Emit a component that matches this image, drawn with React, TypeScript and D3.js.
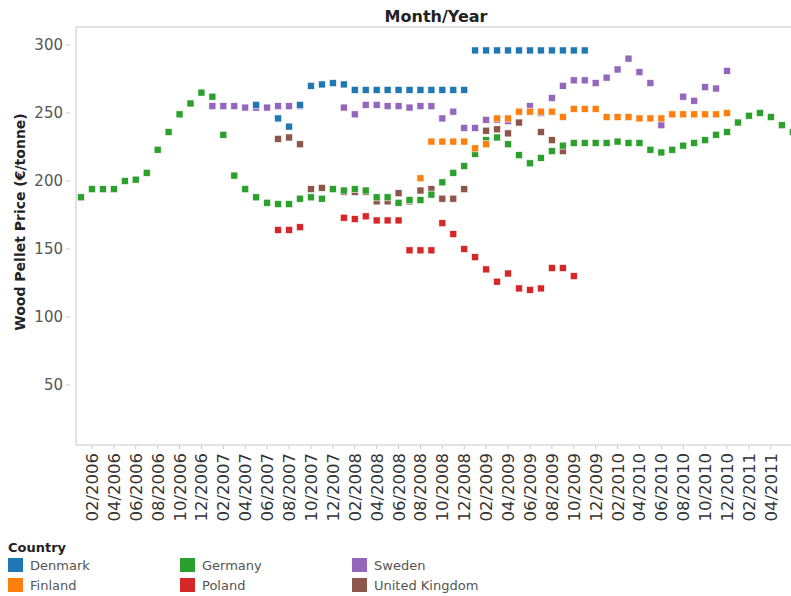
import * as d3 from 'd3';
import React, { useEffect, useRef } from 'react';

// months on the x axis (01/2006 .. 06/2011)
const months: string[] = d3
  .timeMonth.range(new Date(2006, 0, 1), new Date(2011, 6, 1))
  .map(d3.timeFormat('%m/%Y'));

const tickLabels = [
  '02/2006', '04/2006', '06/2006', '08/2006', '10/2006', '12/2006',
  '02/2007', '04/2007', '06/2007', '08/2007', '10/2007', '12/2007',
  '02/2008', '04/2008', '06/2008', '08/2008', '10/2008', '12/2008',
  '02/2009', '04/2009', '06/2009', '08/2009', '10/2009', '12/2009',
  '02/2010', '04/2010', '06/2010', '08/2010', '10/2010', '12/2010',
  '02/2011', '04/2011',
];

const yTicks = [50, 100, 150, 200, 250, 300];

// each series starts at its first month, null = no data that month
const denmarkFrom = '05/2007';
const denmark = [
  256, null, 246, 240, 256, 270, 271, 272, 271,
  267, 267, 267, 267, 267, 267, 267, 267, 267, 267, 267,
  296, 296, 296, 296, 296, 296, 296, 296, 296, 296, 296,
];

const finlandFrom = '08/2008';
const finland = [
  202, 229, 229, 229, 229, 224, 227, 246, 246, 251, 251, 251, 251, 247,
  253, 253, 253, 247, 247, 247, 246, 246, 246, 249, 249, 249, 249, 249, 250,
];

const germanyFrom = '01/2006';
const germany = [
  188, 194, 194, 194, 200, 201, 206, 223, 236, 249, 257, 265,
  262, 234, 204, 194, 188, 184, 183, 183, 187, 188, 187, 194,
  193, 194, 193, 188, 188, 184, 186, 186, 190, 199, 206, 211,
  220, 230, 232, 227, 219, 213, 217, 222, 226, 228, 228, 228,
  228, 229, 228, 228, 223, 221, 223, 226, 228, 230, 234, 236,
  243, 248, 250, 247, 241, 236,
];

const polandFrom = '07/2007';
const poland = [
  164, 164, 166, null, null, null, 173, 172, 174, 171, 171, 171,
  149, 149, 149, 169, 161, 150, 144, 135, 126, 132, 121, 120, 121,
  136, 136, 130,
];

const swedenFrom = '01/2007';
const sweden = [
  255, 255, 255, 254, 254, 254, 255, 255, 255, null, null, null,
  254, 249, 256, 256, 255, 255, 254, 255, 255, 246, 251, 239,
  239, 245, 245, 244, 251, 255, 250, 261, 270, 274, 274, 272,
  276, 282, 290, 280, 272, 241, 249, 262, 259, 269, 268, 281,
];

const ukFrom = '07/2007';
const uk = [
  231, 232, 227, 194, 195, null, 192, 192, 192, 185, 185, 191,
  185, 193, 194, 187, 187, 194, null, 237, 238, 235, 243, null,
  236, 230, 222,
];

const legendItems = [
  { name: 'Denmark', color: '#1f77b4' },
  { name: 'Finland', color: '#ff7f0e' },
  { name: 'Germany', color: '#2ca02c' },
  { name: 'Poland', color: '#d62728' },
  { name: 'Sweden', color: '#9467bd' },
  { name: 'United Kingdom', color: '#8c564b' },
];

// drawing order (later ones sit on top)
const series = [
  { name: 'Sweden', from: swedenFrom, values: sweden, color: '#9467bd' },
  { name: 'United Kingdom', from: ukFrom, values: uk, color: '#8c564b' },
  { name: 'Poland', from: polandFrom, values: poland, color: '#d62728' },
  { name: 'Germany', from: germanyFrom, values: germany, color: '#2ca02c' },
  { name: 'Finland', from: finlandFrom, values: finland, color: '#ff7f0e' },
  { name: 'Denmark', from: denmarkFrom, values: denmark, color: '#1f77b4' },
];

const FONT = 'DejaVu Sans, Verdana, sans-serif';

const App = () => {
  const svgRef = useRef<SVGSVGElement>(null);

  useEffect(() => {
    const svg = d3.select(svgRef.current);
    svg.selectAll('*').remove();

    const width = 791;
    const height = 596;
    const plotLeft = 76;
    const plotTop = 27;
    const plotBottom = 445;

    const x = d3.scalePoint<string>()
      .domain(months)
      .range([81, 81 + (months.length - 1) * 10.95]);

    const y = d3.scaleLinear()
      .domain([0, 300])
      .range([453, 45]);

    svg.attr('width', width).attr('height', height);

    // frame
    svg.append('line')
      .attr('x1', plotLeft).attr('x2', width)
      .attr('y1', plotTop).attr('y2', plotTop)
      .attr('stroke', '#d9d9d9').attr('stroke-width', 1.5);
    svg.append('line')
      .attr('x1', plotLeft).attr('x2', plotLeft)
      .attr('y1', plotTop).attr('y2', plotBottom)
      .attr('stroke', '#d9d9d9').attr('stroke-width', 1.5);
    svg.append('line')
      .attr('x1', plotLeft).attr('x2', width)
      .attr('y1', plotBottom).attr('y2', plotBottom)
      .attr('stroke', '#d9d9d9').attr('stroke-width', 1.5);

    // title
    svg.append('text')
      .attr('x', 436).attr('y', 22)
      .attr('text-anchor', 'middle')
      .style('font-family', FONT)
      .style('font-size', '16px')
      .style('font-weight', 'bold')
      .attr('fill', '#222')
      .text('Month/Year');

    // y axis
    const yAxis = svg.append('g');
    yAxis.selectAll('line')
      .data(yTicks)
      .join('line')
      .attr('x1', 66).attr('x2', 70)
      .attr('y1', d => y(d)).attr('y2', d => y(d))
      .attr('stroke', '#c8c8c8');
    yAxis.selectAll('text')
      .data(yTicks)
      .join('text')
      .attr('x', 63)
      .attr('y', d => y(d))
      .attr('dy', '0.36em')
      .attr('text-anchor', 'end')
      .style('font-family', FONT)
      .style('font-size', '15px')
      .attr('fill', '#555')
      .text(d => d);

    svg.append('text')
      .attr('transform', 'translate(25, 222) rotate(-90)')
      .attr('text-anchor', 'middle')
      .style('font-family', FONT)
      .style('font-size', '14px')
      .style('font-weight', 'bold')
      .attr('fill', '#222')
      .text('Wood Pellet Price (€/tonne)');

    // x axis
    const xAxis = svg.append('g');
    xAxis.selectAll('line')
      .data(tickLabels)
      .join('line')
      .attr('x1', d => x(d)!).attr('x2', d => x(d)!)
      .attr('y1', plotBottom + 1).attr('y2', plotBottom + 4)
      .attr('stroke', '#c8c8c8');
    xAxis.selectAll('text')
      .data(tickLabels)
      .join('text')
      .attr('transform', d => `translate(${x(d)}, 453) rotate(-90)`)
      .attr('dy', '0.36em')
      .attr('text-anchor', 'end')
      .style('font-family', FONT)
      .style('font-size', '16.5px')
      .attr('fill', '#333')
      .text(d => d);

    // points
    const size = 7;
    const pts = svg.append('g');
    series.forEach(s => {
      const start = months.indexOf(s.from);
      const data = s.values
        .map((v, i) => ({ month: months[start + i], value: v }))
        .filter(d => d.value != null);
      pts.append('g')
        .selectAll('rect')
        .data(data)
        .join('rect')
        .attr('x', d => x(d.month)! - size / 2)
        .attr('y', d => y(d.value as number) - size / 2)
        .attr('width', size)
        .attr('height', size)
        .attr('fill', s.color)
        .attr('stroke', 'white')
        .attr('stroke-width', 0.6);
    });

    // legend
    const legend = svg.append('g');
    legend.append('text')
      .attr('x', 8).attr('y', 552)
      .style('font-family', FONT)
      .style('font-size', '13px')
      .style('font-weight', 'bold')
      .attr('fill', '#222')
      .text('Country');
    const item = legend.selectAll('g.item')
      .data(legendItems)
      .join('g')
      .attr('class', 'item')
      .attr('transform', (d, i) => `translate(${8 + Math.floor(i / 2) * 172}, ${558 + (i % 2) * 20})`);
    item.append('rect')
      .attr('width', 15).attr('height', 14)
      .attr('fill', d => d.color);
    item.append('text')
      .attr('x', 22).attr('y', 12)
      .style('font-family', FONT)
      .style('font-size', '13px')
      .attr('fill', '#555')
      .text(d => d.name);
  }, []);

  return (
    <svg ref={svgRef} style={{ position: 'absolute', left: 0, top: 0, display: 'block' }}></svg>
  );
};

export default App;
